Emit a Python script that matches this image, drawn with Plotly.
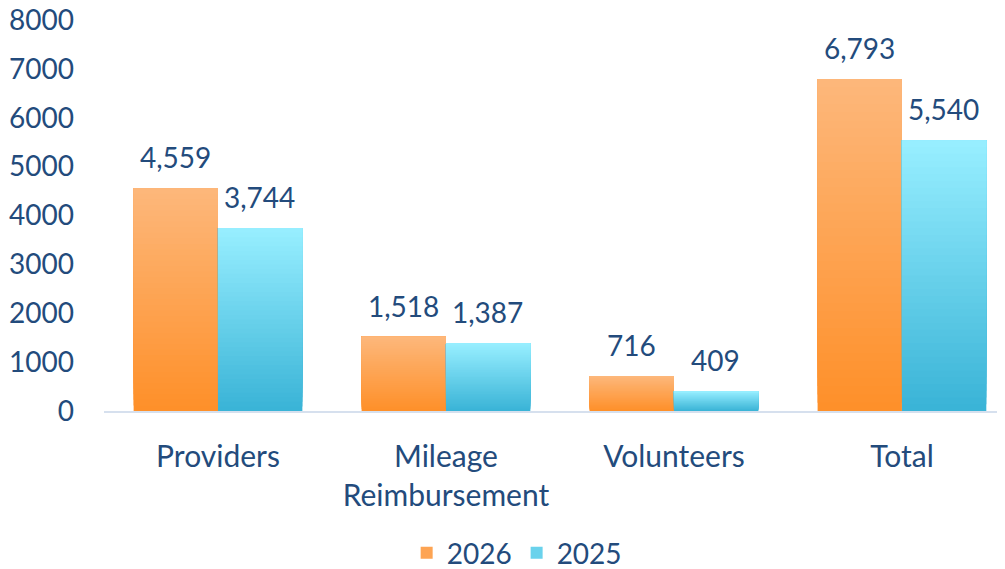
import plotly.graph_objects as go

categories = ["Providers", "Mileage<br>Reimbursement", "Volunteers", "Total"]
values_2026 = [4559, 1518, 716, 6793]
values_2025 = [3744, 1387, 409, 5540]
series_names = ["2026", "2025"]
y_tick_values = [0, 1000, 2000, 3000, 4000, 5000, 6000, 7000, 8000]

FONT = "Lato"
TEXT_COLOR = "#234B7C"
# (bottom colour, top colour) per series
gradients = {
    "2026": ((0xFE, 0x90, 0x2A), (0xFD, 0xB7, 0x7A)),
    "2025": ((0x3A, 0xB4, 0xD7), (0x97, 0xEE, 0xFF)),
}
N_SEG = 40

fig = go.Figure()


def lerp(c0, c1, t):
    return "rgb(%d,%d,%d)" % tuple(round(a + (b - a) * t) for a, b in zip(c0, c1))


for name, vals in zip(series_names, [values_2026, values_2025]):
    c_bot, c_top = gradients[name]
    for k in range(N_SEG):
        t = k / (N_SEG - 1)
        fig.add_trace(go.Bar(
            x=categories,
            y=[v * (N_SEG - k) / N_SEG for v in vals],
            base=[v * k / N_SEG for v in vals],
            offsetgroup=name,
            legendgroup=name,
            name=name,
            showlegend=(k == N_SEG // 2),
            marker=dict(color=lerp(c_bot, c_top, t), line=dict(width=0)),
            hoverinfo="skip" if k else None,
            customdata=vals,
            hovertemplate="%{x}: %{customdata:,}<extra>" + name + "</extra>",
        ))

# value labels
for name, vals, shift in zip(series_names, [values_2026, values_2025], [-42, 42]):
    for c, v in zip(categories, vals):
        fig.add_annotation(
            x=c, y=v, text=f"{v:,}", showarrow=False,
            xshift=shift, yshift=31, yanchor="middle",
            font=dict(family=FONT, size=28, color=TEXT_COLOR),
        )

# the page body adds an 8px margin, so the figure is 8px smaller and margins shifted
fig.update_layout(
    width=997, height=561,
    margin=dict(l=96, r=0, t=12, b=158, autoexpand=False),
    paper_bgcolor="white", plot_bgcolor="white",
    barmode="group", bargap=0.26, bargroupgap=0,
    font=dict(family=FONT, size=28, color=TEXT_COLOR),
    showlegend=True,
    legend=dict(
        orientation="h", x=0.458, xanchor="center", y=-0.363, yanchor="middle",
        font=dict(family=FONT, size=28, color=TEXT_COLOR),
        itemwidth=30, tracegroupgap=0,
    ),
    xaxis=dict(
        type="category", range=[-0.5, 3.452], automargin=False,
        showline=True, linecolor="#D6E0EE", linewidth=2,
        showgrid=False, ticks="", ticklabelstandoff=18,
        tickfont=dict(family=FONT, size=30, color=TEXT_COLOR),
    ),
    yaxis=dict(
        range=[0, 8000], tickvals=y_tick_values, automargin=False,
        showgrid=False, zeroline=False, showline=False, ticks="",
        ticklabelstandoff=29, ticklabeloverflow="allow",
        tickfont=dict(family=FONT, size=28, color=TEXT_COLOR),
    ),
)

fig.write_html("out.html")
